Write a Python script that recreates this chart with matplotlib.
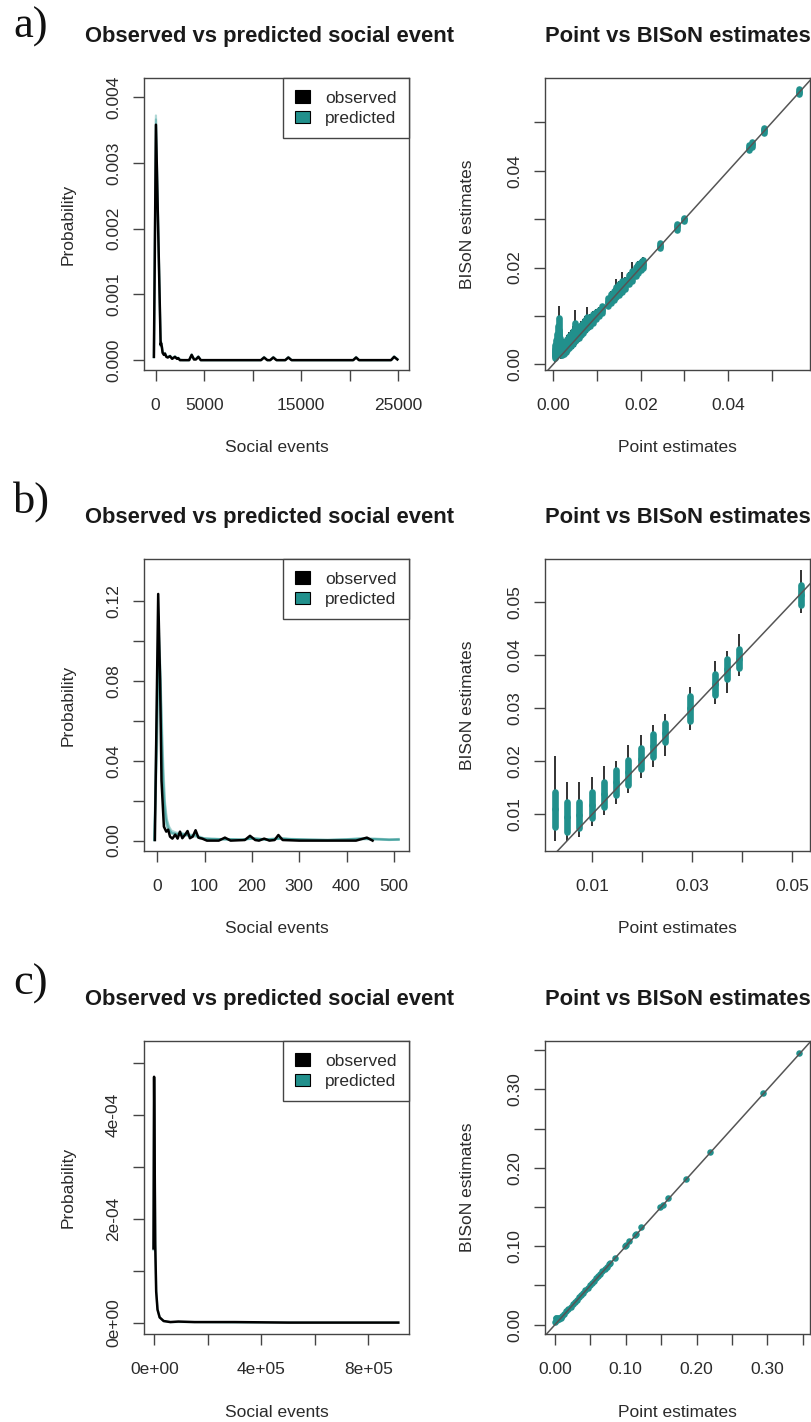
import matplotlib
matplotlib.use('Agg')
import matplotlib.pyplot as plt
from matplotlib.patches import Patch

plt.rcParams['font.family'] = ['Liberation Sans', 'DejaVu Sans']

TEAL = '#21908C'
INK = '#2b2b2b'
FRAME = '#444444'

# --- a) density of social events, observed + posterior predictive ---
a_obs_x = [-180, 30, 515, 560, 640, 720, 850, 960, 1100, 1250, 1480, 1700, 1990, 2200,
           2330, 2500, 2800, 3450, 3710, 3950, 4150, 4400, 4650, 10850, 11170, 11500,
           11800, 12120, 12450, 13350, 13670, 14000, 20350, 20650, 20950, 24250, 24570, 24900]
a_obs_y = [0.00005, 0.00358, 0.00023, 0.00026, 0.00020, 0.00011, 0.00008, 0.00010, 0.00005,
           0.00004, 0.00006, 0.00002, 0.00005, 0.00002, 0.00003, 0.0, 0.0, 0.0, 0.00008,
           0.00001, 0.00001, 0.00005, 0.0, 0.0, 0.00004, 0.0, 0.0, 0.00004, 0.0, 0.0,
           0.00004, 0.0, 0.0, 0.00004, 0.0, 0.0, 0.00005, 0.00001]
a_pred_y = [
    [0.00005, 0.00372, 0.00026, 0.00028, 0.00022, 0.00013, 0.00009, 0.00011, 0.00006,
     0.00005, 0.00007, 0.00003, 0.00006, 0.00003, 0.00004, 0.0, 0.0, 0.0, 0.00009,
     0.00002, 0.00002, 0.00006, 0.0, 0.0, 0.00005, 0.0, 0.0, 0.00005, 0.0, 0.0,
     0.00005, 0.0, 0.0, 0.00005, 0.0, 0.0, 0.00006, 0.00001],
    [0.00004, 0.00366, 0.00021, 0.00024, 0.00019, 0.00012, 0.00009, 0.00009, 0.00006,
     0.00005, 0.00005, 0.00003, 0.00005, 0.00003, 0.00003, 0.00001, 0.0, 0.0, 0.00007,
     0.00002, 0.00002, 0.00005, 0.0, 0.0, 0.00004, 0.0, 0.0, 0.00004, 0.0, 0.0,
     0.00004, 0.0, 0.0, 0.00004, 0.0, 0.0, 0.00005, 0.00002],
]

# edge weights: point estimate vs BISoN posterior quantiles
a_point = [0.0003, 0.0005, 0.0007, 0.0009, 0.0011, 0.0012, 0.0014, 0.0016, 0.0018, 0.0021,
           0.0024, 0.0028, 0.0032, 0.0036, 0.0040, 0.0044, 0.0049, 0.0053, 0.0058, 0.0063,
           0.0068, 0.0073, 0.0078, 0.0083, 0.0090, 0.0097, 0.0104, 0.0112, 0.0125, 0.0132,
           0.0138, 0.0144, 0.0150, 0.0156, 0.0163, 0.0172, 0.0180, 0.0188, 0.0194, 0.0200,
           0.0206, 0.0244, 0.0282, 0.0300, 0.0448, 0.0454, 0.0482, 0.0562]
a_lo95 = [0.0005, 0.0008, 0.0010, 0.0012, 0.0015, 0.0018, 0.0015, 0.0012, 0.0010, 0.0012,
          0.0015, 0.0018, 0.0022, 0.0025, 0.0030, 0.0032, 0.0036, 0.0040, 0.0045, 0.0050,
          0.0056, 0.0060, 0.0064, 0.0070, 0.0080, 0.0087, 0.0094, 0.0102, 0.0116, 0.0122,
          0.0128, 0.0134, 0.0140, 0.0142, 0.0150, 0.0160, 0.0166, 0.0176, 0.0182, 0.0188,
          0.0194, 0.0237, 0.0275, 0.0295, 0.0440, 0.0446, 0.0476, 0.0556]
a_lo50 = [0.0012, 0.0016, 0.0020, 0.0025, 0.0030, 0.0034, 0.0028, 0.0022, 0.0018, 0.0020,
          0.0022, 0.0026, 0.0030, 0.0034, 0.0038, 0.0042, 0.0048, 0.0050, 0.0055, 0.0060,
          0.0064, 0.0070, 0.0074, 0.0078, 0.0086, 0.0093, 0.0099, 0.0106, 0.0120, 0.0127,
          0.0133, 0.0138, 0.0144, 0.0150, 0.0156, 0.0165, 0.0172, 0.0182, 0.0188, 0.0194,
          0.0199, 0.0240, 0.0278, 0.0297, 0.0443, 0.0449, 0.0479, 0.0559]
a_med = [0.0020, 0.0026, 0.0032, 0.0040, 0.0050, 0.0058, 0.0045, 0.0035, 0.0030, 0.0030,
         0.0032, 0.0035, 0.0040, 0.0044, 0.0048, 0.0053, 0.0062, 0.0060, 0.0064, 0.0070,
         0.0074, 0.0080, 0.0085, 0.0088, 0.0095, 0.0101, 0.0106, 0.0113, 0.0128, 0.0136,
         0.0142, 0.0148, 0.0154, 0.0160, 0.0165, 0.0174, 0.0182, 0.0192, 0.0198, 0.0203,
         0.0208, 0.0245, 0.0285, 0.0300, 0.0448, 0.0455, 0.0484, 0.0564]
a_hi50 = [0.0032, 0.0040, 0.0050, 0.0062, 0.0078, 0.0096, 0.0070, 0.0055, 0.0045, 0.0042,
          0.0045, 0.0048, 0.0052, 0.0058, 0.0062, 0.0068, 0.0085, 0.0072, 0.0076, 0.0082,
          0.0086, 0.0092, 0.0098, 0.0098, 0.0104, 0.0109, 0.0113, 0.0120, 0.0137, 0.0146,
          0.0152, 0.0160, 0.0166, 0.0172, 0.0174, 0.0184, 0.0192, 0.0202, 0.0208, 0.0212,
          0.0216, 0.0250, 0.0291, 0.0303, 0.0453, 0.0460, 0.0489, 0.0569]
a_hi95 = [0.0040, 0.0050, 0.0062, 0.0075, 0.0095, 0.0120, 0.0085, 0.0068, 0.0055, 0.0050,
          0.0052, 0.0055, 0.0060, 0.0066, 0.0070, 0.0078, 0.0112, 0.0080, 0.0084, 0.0090,
          0.0094, 0.0100, 0.0119, 0.0104, 0.0110, 0.0114, 0.0118, 0.0124, 0.0142, 0.0152,
          0.0158, 0.0176, 0.0172, 0.0190, 0.0180, 0.0190, 0.0212, 0.0208, 0.0214, 0.0218,
          0.0222, 0.0253, 0.0294, 0.0305, 0.0456, 0.0463, 0.0492, 0.0572]

# --- b) ---
b_obs_x = [-5, 2, 6, 9, 14, 19, 23, 27, 32, 38, 43, 48, 53, 59, 64, 69, 75, 81, 87, 95,
           105, 130, 143, 155, 185, 196, 207, 215, 226, 237, 248, 256, 265, 300, 420, 443, 455]
b_obs_y = [0.0003, 0.1235, 0.080, 0.030, 0.007, 0.0045, 0.0055, 0.002, 0.001, 0.003, 0.001,
           0.0045, 0.0012, 0.0030, 0.0048, 0.0012, 0.002, 0.0052, 0.0015, 0.001, 0.0, 0.0,
           0.0015, 0.0, 0.0003, 0.0024, 0.0003, 0.0, 0.001, 0.0, 0.0003, 0.0028, 0.0003,
           0.0, 0.0, 0.0015, 0.0]
b_pred_x = [-6, 0, 3, 6, 9, 12, 16, 20, 25, 30, 40, 50, 60, 70, 80, 90, 100, 120, 150, 180,
            200, 230, 260, 290, 320, 360, 400, 430, 460, 490, 510]
b_pred_y = [
    [0.0003, 0.060, 0.105, 0.090, 0.055, 0.030, 0.014, 0.008, 0.005, 0.004, 0.003, 0.003,
     0.0035, 0.002, 0.003, 0.0015, 0.001, 0.0008, 0.0006, 0.0004, 0.0012, 0.0005, 0.0010,
     0.0008, 0.0004, 0.0002, 0.0006, 0.0010, 0.0008, 0.0004, 0.0006],
    [0.0004, 0.070, 0.098, 0.084, 0.060, 0.036, 0.018, 0.010, 0.006, 0.004, 0.0035, 0.0025,
     0.003, 0.0025, 0.002, 0.0015, 0.0012, 0.0006, 0.0008, 0.0005, 0.0009, 0.0007, 0.0012,
     0.0006, 0.0006, 0.0004, 0.0004, 0.0008, 0.0010, 0.0006, 0.0004],
    [0.0002, 0.050, 0.092, 0.088, 0.066, 0.042, 0.020, 0.011, 0.007, 0.005, 0.004, 0.0035,
     0.0025, 0.003, 0.0025, 0.002, 0.0010, 0.0010, 0.0005, 0.0006, 0.0010, 0.0004, 0.0009,
     0.0007, 0.0005, 0.0003, 0.0005, 0.0007, 0.0006, 0.0005, 0.0008],
    [0.0005, 0.080, 0.112, 0.078, 0.048, 0.026, 0.012, 0.007, 0.005, 0.0035, 0.003, 0.004,
     0.003, 0.002, 0.0035, 0.001, 0.0008, 0.0007, 0.0007, 0.0003, 0.0014, 0.0006, 0.0011,
     0.0005, 0.0003, 0.0003, 0.0007, 0.0012, 0.0007, 0.0003, 0.0005],
]

b_point = [0.0025, 0.0049, 0.0074, 0.0099, 0.0123, 0.0148, 0.0172, 0.0197, 0.0222, 0.0246,
           0.0296, 0.0345, 0.0369, 0.0394, 0.0517]
b_lo95 = [0.0050, 0.0050, 0.0057, 0.0077, 0.0098, 0.0120, 0.0140, 0.0169, 0.0189, 0.0209,
          0.0258, 0.0308, 0.0329, 0.0360, 0.0480]
b_lo50 = [0.0075, 0.0067, 0.0073, 0.0092, 0.0114, 0.0136, 0.0155, 0.0186, 0.0207, 0.0236,
          0.0276, 0.0325, 0.0355, 0.0376, 0.0496]
b_med = [0.0109, 0.0095, 0.0098, 0.0117, 0.0138, 0.0160, 0.0179, 0.0205, 0.0229, 0.0254,
         0.0300, 0.0345, 0.0374, 0.0394, 0.0514]
b_hi50 = [0.0142, 0.0123, 0.0123, 0.0142, 0.0161, 0.0183, 0.0202, 0.0224, 0.0252, 0.0273,
          0.0323, 0.0364, 0.0393, 0.0412, 0.0533]
b_hi95 = [0.0210, 0.0160, 0.0160, 0.0170, 0.0190, 0.0200, 0.0230, 0.0250, 0.0269, 0.0290,
          0.0340, 0.0390, 0.0409, 0.0440, 0.0561]

# --- c) ---
c_obs_x = [-3000, -800, 3500, 7000, 12000, 20000, 35000, 60000, 90000, 150000, 300000,
           500000, 700000, 912000]
c_obs_y = [1.43e-4, 4.74e-4, 1.5e-4, 6.0e-5, 2.5e-5, 1.0e-5, 3e-6, 1e-6, 2e-6, 1e-6, 1e-6,
           0.0, 0.0, 0.0]
c_pred_y = [1.40e-4, 4.70e-4, 1.6e-4, 6.5e-5, 2.6e-5, 1.0e-5, 3e-6, 1e-6, 1e-6, 1e-6, 0.0,
            0.0, 0.0, 0.0]

c_point = [0.000, 0.001, 0.002, 0.003, 0.004, 0.005, 0.006, 0.008, 0.010, 0.013, 0.016,
           0.019, 0.022, 0.025, 0.028, 0.031, 0.034, 0.037, 0.040, 0.043, 0.046, 0.049,
           0.052, 0.055, 0.058, 0.061, 0.064, 0.067, 0.070, 0.073, 0.076, 0.078, 0.085,
           0.099, 0.101, 0.105, 0.113, 0.115, 0.122, 0.148, 0.152, 0.160, 0.185, 0.219,
           0.294, 0.345]
c_med = [0.003, 0.008, 0.009, 0.006, 0.008, 0.007, 0.008, 0.009, 0.011, 0.014, 0.017,
         0.020, 0.023, 0.026, 0.029, 0.032, 0.035, 0.038, 0.041, 0.044, 0.047, 0.050,
         0.053, 0.056, 0.059, 0.062, 0.065, 0.068, 0.071, 0.074, 0.077, 0.079, 0.085,
         0.100, 0.101, 0.107, 0.114, 0.116, 0.124, 0.150, 0.153, 0.161, 0.186, 0.220,
         0.295, 0.346]

panels = [
    dict(tag='a)', obs_x=a_obs_x, obs_y=a_obs_y, pred_x=a_obs_x, pred_y=a_pred_y,
         d_xlim=(-1200, 26100), d_ylim=(-0.00015, 0.00429),
         d_xt=[0, 5000, 10000, 15000, 20000, 25000], d_xl=['0', '5000', '', '15000', '', '25000'],
         d_yt=[0, 0.001, 0.002, 0.003, 0.004], d_yl=['0.000', '0.001', '0.002', '0.003', '0.004'],
         pt=a_point, lo95=a_lo95, lo50=a_lo50, med=a_med, hi50=a_hi50, hi95=a_hi95,
         s_xlim=(-0.0019, 0.0587), s_ylim=(-0.0012, 0.0592),
         s_xt=[0, 0.01, 0.02, 0.03, 0.04, 0.05], s_xl=['0.00', '', '0.02', '', '0.04', ''],
         s_yt=[0, 0.01, 0.02, 0.03, 0.04, 0.05], s_yl=['0.00', '', '0.02', '', '0.04', '']),
    dict(tag='b)', obs_x=b_obs_x, obs_y=b_obs_y, pred_x=b_pred_x, pred_y=b_pred_y,
         d_xlim=(-28, 532), d_ylim=(-0.0052, 0.141),
         d_xt=[0, 100, 200, 300, 400, 500], d_xl=['0', '100', '200', '300', '400', '500'],
         d_yt=[0, 0.02, 0.04, 0.06, 0.08, 0.10, 0.12], d_yl=['0.00', '', '0.04', '', '0.08', '', '0.12'],
         pt=b_point, lo95=b_lo95, lo50=b_lo50, med=b_med, hi50=b_hi50, hi95=b_hi95,
         s_xlim=(0.00054, 0.0535), s_ylim=(0.00303, 0.0582),
         s_xt=[0.01, 0.02, 0.03, 0.04, 0.05], s_xl=['0.01', '', '0.03', '', '0.05'],
         s_yt=[0.01, 0.02, 0.03, 0.04, 0.05], s_yl=['0.01', '0.02', '0.03', '0.04', '0.05']),
    dict(tag='c)', obs_x=c_obs_x, obs_y=c_obs_y, pred_x=c_obs_x, pred_y=[c_pred_y],
         d_xlim=(-38500, 952000), d_ylim=(-2.2e-5, 5.43e-4),
         d_xt=[0, 2e5, 4e5, 6e5, 8e5], d_xl=['0e+00', '', '4e+05', '', '8e+05'],
         d_yt=[0, 1e-4, 2e-4, 3e-4, 4e-4, 5e-4], d_yl=['0e+00', '', '2e-04', '', '4e-04', ''],
         pt=c_point, lo95=None, lo50=None, med=c_med, hi50=None, hi95=None,
         s_xlim=(-0.0141, 0.3603), s_ylim=(-0.0119, 0.3618),
         s_xt=[0, 0.05, 0.10, 0.15, 0.20, 0.25, 0.30, 0.35],
         s_xl=['0.00', '', '0.10', '', '0.20', '', '0.30', ''],
         s_yt=[0, 0.05, 0.10, 0.15, 0.20, 0.25, 0.30, 0.35],
         s_yl=['0.00', '', '0.10', '', '0.20', '', '0.30', '']),
]

W, H = 812, 1422
fig = plt.figure(figsize=(W / 100, H / 100), dpi=100)

# axes boxes in pixels: (left, top, right, bottom)
rows_px = [(78, 370), (559, 851), (1041, 1334)]
cols_px = [(144, 409), (545, 810)]
tag_base = [38, 513, 995]


def px_axes(x0, y0, x1, y1):
    return fig.add_axes([x0 / W, 1 - y1 / H, (x1 - x0) / W, (y1 - y0) / H])


def style(ax, xt, xl, yt, yl, xlim, ylim, xlabel, ylabel, ylab_x):
    ax.set_xlim(*xlim)
    ax.set_ylim(*ylim)
    ax.set_xticks(xt)
    ax.set_xticklabels(xl)
    ax.set_yticks(yt)
    ax.set_yticklabels(yl, rotation=90, va='center')
    for sp in ax.spines.values():
        sp.set_color(FRAME)
        sp.set_linewidth(1.0)
    ax.tick_params(length=8, width=1.0, color=FRAME, labelsize=12.5, labelcolor=INK)
    ax.tick_params(axis='x', pad=12)
    ax.tick_params(axis='y', pad=8.5)
    ax.set_xlabel(xlabel, fontsize=12.5, color=INK, va='center')
    ax.set_ylabel(ylabel, fontsize=12.5, color=INK, va='center')
    ax.xaxis.set_label_coords(0.5, -0.267)
    ax.yaxis.set_label_coords(ylab_x, 0.5)


for i, p in enumerate(panels):
    top, bot = rows_px[i]
    # density panel
    ax = px_axes(cols_px[0][0], top, cols_px[0][1], bot)
    for py in p['pred_y']:
        ax.plot(p['pred_x'], py, color=TEAL, lw=1.6, alpha=0.35, solid_joinstyle='round')
    ax.plot(p['obs_x'], p['obs_y'], color='black', lw=1.8, solid_joinstyle='round')
    style(ax, p['d_xt'], p['d_xl'], p['d_yt'], p['d_yl'], p['d_xlim'], p['d_ylim'],
          'Social events', 'Probability', -0.287)
    ax.set_title('Observed vs predicted social event', fontsize=15.8, fontweight='bold',
                 color='#1a1a1a', pad=26, x=0.472)
    handles = [Patch(facecolor='black', edgecolor='black', lw=0.8, label='observed'),
               Patch(facecolor=TEAL, edgecolor='black', lw=0.8, label='predicted')]
    leg = ax.legend(handles=handles, loc='upper right', borderaxespad=0, fancybox=False,
                    framealpha=1, edgecolor=FRAME, fontsize=12.5, handlelength=0.85,
                    handleheight=0.75, labelspacing=0.3, handletextpad=0.9,
                    borderpad=0.7)
    leg.get_frame().set_linewidth(1.0)
    for t in leg.get_texts():
        t.set_color(INK)

    # point vs BISoN panel
    ax2 = px_axes(cols_px[1][0], top, cols_px[1][1], bot)
    if p['lo95'] is not None:
        ax2.vlines(p['pt'], p['lo95'], p['hi95'], color='#222222', lw=1.3, zorder=2)
        ax2.vlines(p['pt'], p['lo50'], p['hi50'], color=TEAL, lw=4.8, capstyle='round', zorder=3)
    ax2.scatter(p['pt'], p['med'], s=22, color=TEAL, lw=0, zorder=4)
    ax2.axline((0, 0), slope=1, color='#555555', lw=1.1, zorder=5)
    style(ax2, p['s_xt'], p['s_xl'], p['s_yt'], p['s_yl'], p['s_xlim'], p['s_ylim'],
          'Point estimates', 'BISoN estimates', -0.294)
    ax2.set_title('Point vs BISoN estimates', fontsize=15.8, fontweight='bold',
                  color='#1a1a1a', pad=26)

    fig.text(13 / W, 1 - tag_base[i] / H, p['tag'], family=['Liberation Serif', 'DejaVu Serif'],
             fontsize=32, va='baseline', ha='left', color='#111111')

fig.savefig('out.png', dpi=100)
